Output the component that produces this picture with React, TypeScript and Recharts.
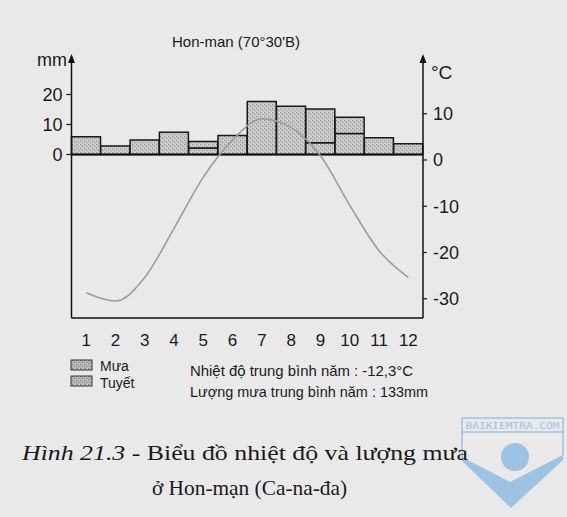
import React from 'react';
import { ComposedChart, Bar, Line, XAxis, YAxis, ReferenceLine } from 'recharts';

const months = ['1', '2', '3', '4', '5', '6', '7', '8', '9', '10', '11', '12'];
const rainMm = [0, 0, 0, 0, 2.2, 6.3, 17.7, 16.1, 3.9, 7.0, 0, 0];
const snowMm = [5.9, 2.8, 4.8, 7.4, 2.1, 0, 0, 0, 11.3, 5.4, 5.6, 3.6];
const tempC = [-28.7, -30.5, -25.4, -14.8, -3.7, 4.3, 8.9, 7.0, 0.9, -9.8, -19.6, -25.4];
const mmTicks = [0, 10, 20];
const tempTicks = [-30, -20, -10, 0, 10];

const data = months.map((m, i) => ({ month: m, rain: rainMm[i], snow: snowMm[i], temp: tempC[i] }));

const FONT = '"Liberation Sans", Arial, sans-serif';
const SERIF = '"Liberation Serif", "Times New Roman", serif';

const ArrowLabel = (props: any) => {
  const vb = props.viewBox || {};
  const isRight = props.side === 'right';
  const x = isRight ? vb.x : vb.x + vb.width;
  const y = vb.y;
  return (
    <g>
      <line x1={x} y1={y} x2={x} y2={y - 4} stroke="#111" strokeWidth={1.5} />
      <path d={`M${x - 3.5},${y + 3} L${x},${y - 6} L${x + 3.5},${y + 3} Z`} fill="#111" />
    </g>
  );
};

export default function App() {
  return (
    <div style={{ position: 'absolute', left: 0, top: 0, width: 567, height: 517, background: '#e9e9e9', overflow: 'hidden' }}>
      <div style={{ position: 'absolute', left: 0, top: 0 }}>
        <ComposedChart
          width={567}
          height={517}
          data={data}
          margin={{ top: 60, right: 84, bottom: 169, left: 0 }}
          barCategoryGap={0}
          barGap={0}
        >
          <defs>
            <pattern id="stip" width="4" height="4" patternUnits="userSpaceOnUse">
              <rect width="4" height="4" fill="#c4c4c4" />
              <rect x="0" y="0" width="1" height="1" fill="#8e8e8e" />
              <rect x="2" y="2" width="1" height="1" fill="#9a9a9a" />
              <rect x="3" y="0" width="1" height="1" fill="#dedede" />
              <rect x="1" y="3" width="1" height="1" fill="#d8d8d8" />
            </pattern>
          </defs>
          <XAxis
            dataKey="month"
            xAxisId="x"
            height={30}
            axisLine={{ stroke: '#111', strokeWidth: 1.5 }}
            tickLine={false}
            tickMargin={10}
            tick={{ fontSize: 17, fill: '#1a1a1a', fontFamily: FONT }}
            interval={0}
          />
          <YAxis
            yAxisId="mm"
            orientation="left"
            width={71.5}
            domain={[-54.5, 31.5]}
            ticks={mmTicks}
            allowDataOverflow
            axisLine={{ stroke: '#111', strokeWidth: 1.5 }}
            tickLine={{ stroke: '#111', strokeWidth: 1.2 }}
            tickSize={5}
            tickMargin={4}
            tick={{ fontSize: 18, fill: '#1a1a1a', fontFamily: FONT }}
            label={<ArrowLabel side="left" />}
          />
          <YAxis
            yAxisId="t"
            orientation="right"
            width={60}
            domain={[-34.16, 21.62]}
            ticks={tempTicks}
            allowDataOverflow
            axisLine={{ stroke: '#111', strokeWidth: 1.5 }}
            tickLine={{ stroke: '#111', strokeWidth: 1.2 }}
            tickSize={4}
            tickMargin={6}
            tick={{ fontSize: 18, fill: '#1a1a1a', fontFamily: FONT, textAnchor: 'start' }}
            label={<ArrowLabel side="right" />}
          />
          <Bar xAxisId="x" yAxisId="mm" dataKey="rain" stackId="p" fill="url(#stip)" stroke="#1a1a1a" strokeWidth={1.5} isAnimationActive={false} />
          <Bar xAxisId="x" yAxisId="mm" dataKey="snow" stackId="p" fill="url(#stip)" stroke="#1a1a1a" strokeWidth={1.5} isAnimationActive={false} />
          <ReferenceLine xAxisId="x" yAxisId="mm" y={0} stroke="#111" strokeWidth={2.2} />
          <Line xAxisId="x" yAxisId="t" dataKey="temp" type="monotone" stroke="#9c9c9c" strokeWidth={1.6} dot={false} isAnimationActive={false} />
        </ComposedChart>
      </div>
      <svg width={567} height={517} style={{ position: 'absolute', left: 0, top: 0, pointerEvents: 'none' }}>
        <defs>
          <pattern id="stip2" width="4" height="4" patternUnits="userSpaceOnUse">
            <rect width="4" height="4" fill="#b4b4b4" />
            <rect x="0" y="0" width="1" height="1" fill="#7e7e7e" />
            <rect x="2" y="2" width="1" height="1" fill="#8a8a8a" />
            <rect x="3" y="0" width="1" height="1" fill="#d6d6d6" />
          </pattern>
        </defs>
        <text x={236} y={47} textAnchor="middle" fontSize={15} fontFamily={FONT} fill="#1a1a1a">
          Hon-man (70°30'B)
        </text>
        <text x={37} y={66} fontSize={18} fontFamily={FONT} fill="#1a1a1a">mm</text>
        <text x={431} y={79} fontSize={19} fontFamily={FONT} fill="#1a1a1a">°C</text>

        <rect x={71} y={360} width={21} height={10} fill="url(#stip2)" stroke="#333" strokeWidth={1} />
        <rect x={71} y={376} width={21} height={10} fill="url(#stip2)" stroke="#333" strokeWidth={1} />
        <text x={100} y={371} fontSize={14} fontFamily={FONT} fill="#1a1a1a">Mưa</text>
        <text x={100} y={388} fontSize={14} fontFamily={FONT} fill="#1a1a1a">Tuyết</text>
        <text x={190} y={376} fontSize={14.5} fontFamily={FONT} fill="#1a1a1a" textLength={223} lengthAdjust="spacingAndGlyphs">
          Nhiệt độ trung bình năm : -12,3°C
        </text>
        <text x={190} y={397} fontSize={14.5} fontFamily={FONT} fill="#1a1a1a" textLength={238} lengthAdjust="spacingAndGlyphs">
          Lượng mưa trung bình năm : 133mm
        </text>

        <g>
          <rect x={462} y={418} width={101} height={14} fill="none" stroke="#9cc3e3" strokeWidth={1.5} />
          <line x1={462} y1={432} x2={462} y2={458} stroke="#9cc3e3" strokeWidth={1.5} />
          <line x1={563} y1={432} x2={563} y2={456} stroke="#9cc3e3" strokeWidth={1.5} />
          <text x={512.5} y={428.5} textAnchor="middle" fontSize={8} fontFamily='"DejaVu Sans Mono", monospace' fill="#9cc3e3" textLength={94} lengthAdjust="spacingAndGlyphs">
            BAIKIEMTRA.COM
          </text>
          <circle cx={515} cy={457} r={14} fill="#9cc3e3" />
          <path d="M462,457 L510,482 L563,455 L563,460 L511,508 L462,461 Z" fill="#9cc3e3" />
        </g>

        <text x={22} y={460} fontSize={21} fontFamily={SERIF} fill="#1a1a1a" textLength={446} lengthAdjust="spacingAndGlyphs">
          <tspan fontStyle="italic">Hình 21.3</tspan> - Biểu đồ nhiệt độ và lượng mưa
        </text>
        <text x={152} y={495} fontSize={21} fontFamily={SERIF} fill="#1a1a1a" textLength={195} lengthAdjust="spacingAndGlyphs">
          ở Hon-mạn (Ca-na-đa)
        </text>
      </svg>
    </div>
  );
}
